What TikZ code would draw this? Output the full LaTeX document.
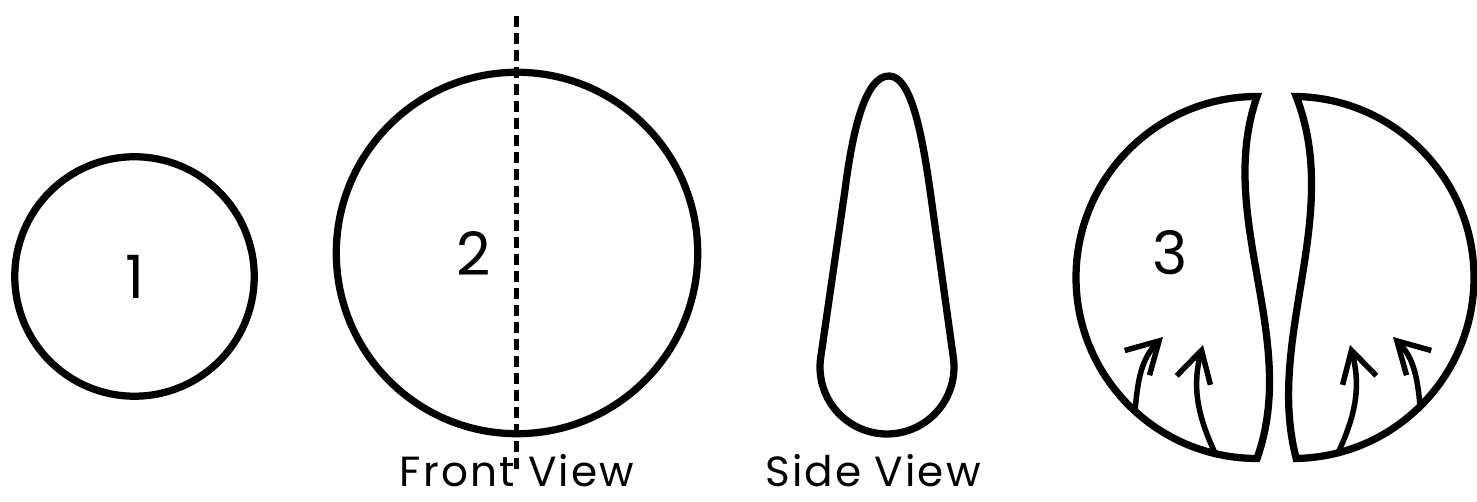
\documentclass[tikz,border=0pt]{standalone}
\usepackage{fontspec}
\setmainfont{Poppins}
\newfontfamily\capfont{Poppins}[LetterSpace=5]
\usetikzlibrary{arrows.meta,calc}

\begin{document}
\begin{tikzpicture}[
  x=0.02cm, y=0.02cm,
  outline/.style={draw,line width=0.145cm},
  disc/.style={circle,outline,inner sep=0pt},
  num/.style={font=\fontsize{34}{40}\selectfont},
  caption/.style={anchor=base,font=\capfont\fontsize{24}{28}\selectfont},
  cutline/.style={line width=0.11cm,dash pattern=on 0.23cm off 0.11cm},
  flow/.style={line width=0.11cm,-{Straight Barb[length=0.62cm,width=0.7cm]}}
]
  \useasboundingbox (0,0) rectangle (1477,502);
  \node[disc,minimum size=4.79cm] (c1) at (134.5,225.5) {};
  \node[num] (n1) at (135,225) {1};
  \node[disc,minimum size=7.23cm] (c2) at (517,249) {};
  \node[num] (n2) at (474,248) {2};
  \coordinate (cutT) at (516.7,486);
  \coordinate (cutB) at (516.7,29);
  \draw[cutline] (cutT) -- (cutB);
  \node[caption] (front) at (517,15) {Front View};
  \coordinate (tip) at (889,426);
  \coordinate (bulb) at (887,135);
  \draw[outline] (tip) .. controls (866,426) and (853,375) .. (845,312)
    -- ([shift={(173:67)}]bulb) arc[start angle=173,end angle=367,radius=67]
    -- (930,312) .. controls (921,375) and (910,426) .. (tip) -- cycle;
  \node[caption] (side) at (873,15) {Side View};
  \coordinate (lc) at (1257,224.5);
  \coordinate (rc) at (1293,224.5);
  \draw[outline,line join=miter] ([shift={(90:181)}]lc) arc[start angle=90,end angle=270,radius=181]
    .. controls (1300,164) and (1215,285) .. cycle;
  \draw[outline,line join=miter] ([shift={(89:181)}]rc) arc[start angle=89,end angle=-89,radius=181]
    .. controls (1265,164) and (1343,285) .. cycle;
  \node[num] (n3) at (1170,249) {3};
  \coordinate (a1) at (1135,91);
  \coordinate (h1) at (1163,165);
  \coordinate (a2) at (1215,49);
  \coordinate (h2) at (1203,157);
  \coordinate (a3) at (1338,49);
  \coordinate (h3) at (1350,157);
  \coordinate (a4) at (1420,96);
  \coordinate (h4) at (1393,165);
  \draw[flow] (a1) to[out=85,in=225] (h1);
  \draw[flow] (a2) to[out=115,in=-105] (h2);
  \draw[flow] (a3) to[out=65,in=-75] (h3);
  \draw[flow] (a4) to[out=95,in=-45] (h4);
\end{tikzpicture}
\end{document}
